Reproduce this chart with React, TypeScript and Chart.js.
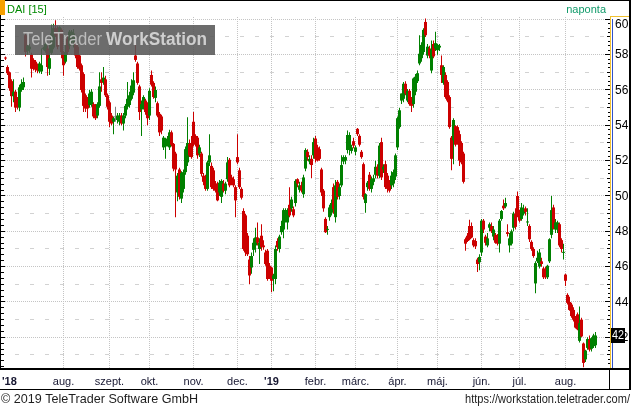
import React, { useEffect, useRef } from 'react';
import { Chart, registerables } from 'chart.js';
Chart.register(...registerables);

// Daily OHLC, DAI (one entry per trading day, left to right)
const opens = [
  57.82, 57.3, 57.0, 56.5, 55.65, 55.9, 55.4, 55.0, 56.0, 56.15,
  59.1, 58.2, 58.3, 58.0, 57.7, 57.6, 57.45, 57.05, 57.05, 58.33,
  58.2, 58.35, 57.2, 58.1, 58.4, 59.5, 59.45, 59.1, 59.4, 58.15,
  57.6, 58.9, 58.5, 58.7, 58.7, 58.7, 58.45, 57.95, 57.4, 56.9,
  55.7, 55.5, 55.15, 55.2, 55.2, 55.1, 54.55, 55.1, 56.6, 56.45,
  56.6, 55.7, 55.3, 54.55, 54.2, 54.45, 54.3, 54.2, 54.55, 54.1,
  54.55, 55.05, 55.15, 55.5, 55.85, 57.95, 57.5, 56.2, 54.9, 55.1,
  55.4, 55.2, 54.55, 56.85, 56.4, 55.55, 55.25, 54.65, 54.5, 52.75,
  52.8, 53.05, 52.75, 53.6, 52.95, 52.4, 50.2, 51.5, 49.85, 50.4,
  51.35, 51.9, 52.95, 53.0, 54.2, 53.4, 53.3, 52.4, 52.4, 51.15,
  51.1, 50.4, 51.9, 51.7, 51.45, 50.7, 50.7, 50.2, 49.95, 50.7,
  50.3, 50.95, 52.05, 51.05, 50.95, 50.5, 52.2, 51.45, 50.4, 49.15,
  48.9, 47.75, 46.4, 45.95, 46.95, 47.2, 47.65, 47.0, 47.75, 47.2,
  46.8, 46.9, 46.05, 45.95, 45.3, 45.3, 47.45, 47.0, 47.95, 48.1,
  48.7, 48.5, 49.5, 49.3, 49.25, 49.6, 50.95, 50.35, 50.6, 50.1,
  51.55, 52.5, 51.95, 52.1, 52.3, 53.25, 52.75, 52.65, 51.5, 50.3,
  48.7, 48.08, 48.8, 49.05, 50.5, 48.8, 50.8, 50.0, 50.6, 51.95,
  52.0, 52.6, 52.7, 52.55, 53.1, 52.5, 53.8, 53.4, 52.5, 51.8,
  49.6, 50.5, 51.2, 50.4, 50.8, 51.2, 51.65, 51.15, 53.05, 51.5,
  51.8, 51.15, 50.75, 50.6, 50.7, 51.1, 52.75, 53.9, 55.4, 55.5,
  56.35, 55.4, 55.95, 55.5, 55.2, 55.9, 56.5, 57.5, 57.8, 58.15,
  59.85, 57.95, 58.35, 57.1, 58.6, 58.35, 58.25, 58.4, 57.4, 56.4,
  56.85, 56.45, 55.6, 53.3, 53.15, 53.95, 53.9, 53.5, 53.0, 52.4,
  47.55, 47.75, 48.3, 48.3, 47.5, 47.45, 46.4, 46.25, 46.8, 48.6,
  47.7, 47.2, 48.2, 48.3, 47.7, 47.8, 47.75, 47.3, 48.7, 49.45,
  49.4, 47.95, 47.2, 47.3, 48.2, 49.0, 50.0, 49.05, 48.7, 49.0,
  49.3, 48.5, 48.3, 47.4, 47.0, 45.05, 46.3, 46.0, 46.3, 45.9,
  45.85, 45.4, 46.3, 47.8, 49.35, 48.1, 48.1, 48.4, 47.5, 46.78,
  45.55, 44.4, 44.0, 43.85, 43.55, 43.1, 43.3, 41.8, 43.0, 41.65,
  40.75, 41.4, 41.85, 41.35, 41.5, 41.55,
];
const highs = [
  57.9, 57.4, 57.05, 56.6, 56.6, 56.0, 55.6, 56.3, 56.6, 56.7,
  59.2, 58.6, 58.6, 58.1, 57.8, 57.7, 57.5, 57.6, 58.35, 58.45,
  58.7, 58.5, 58.6, 59.7, 59.75, 59.95, 59.6, 59.6, 59.5, 58.2,
  59.1, 59.1, 59.4, 59.4, 59.45, 58.9, 58.6, 58.0, 57.5, 57.0,
  55.8, 55.6, 56.0, 56.05, 55.3, 55.2, 55.3, 57.0, 57.0, 57.3,
  56.8, 55.8, 55.4, 54.7, 54.5, 55.05, 54.7, 54.7, 54.7, 54.7,
  55.2, 56.45, 55.9, 56.6, 57.0, 58.7, 57.6, 56.3, 55.4, 55.7,
  55.5, 55.3, 56.1, 57.1, 56.5, 56.2, 55.35, 54.75, 54.6, 53.4,
  53.3, 53.4, 53.75, 53.7, 53.0, 52.5, 51.3, 51.6, 51.4, 51.5,
  52.8, 54.45, 53.2, 53.4, 54.75, 53.5, 53.4, 52.9, 52.5, 51.3,
  51.2, 52.0, 53.5, 51.9, 51.6, 50.85, 50.8, 50.9, 50.95, 50.9,
  50.8, 52.2, 52.15, 51.2, 51.1, 50.6, 53.5, 51.6, 50.5, 49.3,
  49.0, 47.9, 46.6, 46.8, 47.6, 48.2, 48.5, 47.6, 48.4, 47.5,
  46.95, 47.0, 46.2, 46.0, 45.6, 47.2, 47.6, 47.8, 48.6, 49.3,
  49.3, 49.3, 50.5, 49.95, 49.4, 50.95, 51.0, 50.8, 50.8, 51.2,
  52.7, 52.65, 52.3, 52.3, 53.3, 53.4, 52.9, 52.8, 51.6, 50.4,
  48.8, 48.3, 49.5, 49.8, 50.7, 50.9, 50.9, 50.7, 52.3, 52.3,
  52.3, 53.7, 53.6, 52.9, 53.3, 52.85, 53.85, 53.5, 52.6, 51.9,
  50.15, 50.85, 51.35, 51.1, 51.2, 52.0, 51.8, 53.0, 53.3, 51.8,
  52.0, 51.3, 50.9, 51.4, 51.5, 52.4, 54.5, 55.0, 55.8, 56.45,
  56.5, 56.05, 56.05, 55.6, 56.7, 56.9, 57.1, 59.1, 58.7, 59.5,
  60.05, 58.6, 58.5, 58.8, 58.8, 59.3, 58.6, 58.6, 57.95, 57.4,
  57.0, 56.55, 55.7, 53.4, 54.4, 54.0, 54.0, 53.7, 53.1, 52.5,
  47.65, 47.9, 48.65, 48.5, 47.6, 47.6, 46.5, 46.7, 48.7, 48.7,
  47.8, 47.9, 48.5, 48.5, 48.3, 47.9, 47.85, 48.7, 49.2, 49.8,
  49.9, 48.4, 47.9, 48.1, 49.1, 49.3, 50.25, 49.2, 49.6, 49.5,
  49.4, 49.3, 48.4, 47.5, 47.1, 46.3, 46.9, 47.0, 46.5, 46.0,
  46.0, 46.1, 47.6, 50.0, 49.5, 48.7, 48.6, 48.5, 47.6, 47.3,
  45.6, 44.5, 44.3, 43.95, 43.7, 43.2, 43.4, 43.75, 43.1, 41.7,
  41.3, 42.0, 42.1, 42.0, 42.2, 42.3,
];
const lows = [
  57.7, 56.85, 55.95, 55.05, 55.3, 54.75, 54.9, 54.8, 55.9, 56.0,
  57.9, 58.0, 58.1, 56.7, 57.1, 57.0, 56.95, 56.95, 56.9, 58.25,
  58.1, 56.8, 56.85, 58.0, 58.3, 59.0, 58.3, 58.9, 57.8, 56.8,
  57.5, 58.0, 58.3, 58.6, 58.4, 57.8, 57.2, 57.1, 55.85, 54.75,
  54.75, 54.4, 55.0, 55.05, 54.4, 54.3, 54.4, 55.0, 55.9, 56.3,
  55.6, 54.9, 53.9, 54.0, 53.5, 54.2, 54.1, 54.0, 54.0, 53.7,
  54.4, 54.9, 55.0, 55.4, 55.7, 57.6, 56.3, 54.3, 53.4, 54.9,
  54.6, 54.0, 54.3, 56.2, 55.5, 55.3, 54.45, 53.4, 53.5, 52.6,
  52.1, 52.8, 52.6, 52.8, 51.4, 48.8, 49.7, 49.8, 49.6, 50.2,
  51.2, 51.7, 52.2, 52.1, 52.8, 52.8, 52.1, 52.2, 51.1, 50.6,
  50.3, 50.3, 51.7, 50.4, 50.3, 50.2, 49.7, 50.0, 49.6, 50.2,
  50.1, 50.8, 50.5, 50.6, 50.5, 48.8, 51.8, 50.4, 49.8, 46.9,
  46.6, 46.6, 45.0, 45.6, 46.6, 46.8, 47.2, 46.15, 46.9, 46.95,
  46.05, 45.2, 45.3, 44.55, 44.6, 45.0, 46.9, 46.8, 47.8, 47.6,
  48.5, 48.1, 48.8, 49.1, 48.8, 49.4, 50.5, 50.2, 50.2, 49.9,
  51.4, 52.0, 51.8, 51.0, 52.1, 51.9, 51.95, 52.0, 50.0, 49.1,
  47.9, 47.8, 48.6, 48.9, 49.0, 48.5, 49.8, 49.8, 50.5, 51.8,
  51.8, 52.4, 52.3, 52.4, 52.7, 52.3, 53.4, 52.8, 52.1, 49.8,
  49.05, 50.3, 50.3, 50.2, 50.6, 51.0, 51.0, 51.0, 50.9, 51.3,
  50.4, 50.2, 50.2, 50.4, 50.5, 50.9, 52.6, 53.8, 55.2, 55.3,
  55.7, 55.3, 55.1, 54.75, 55.0, 55.7, 56.4, 57.4, 57.6, 58.0,
  59.0, 57.8, 57.8, 56.95, 57.8, 58.2, 58.0, 58.2, 56.4, 56.3,
  55.5, 55.3, 53.8, 51.45, 51.8, 52.8, 52.9, 51.7, 51.8, 50.7,
  46.9, 47.4, 47.5, 47.6, 47.1, 47.0, 45.7, 45.8, 46.6, 47.9,
  47.2, 47.1, 48.0, 47.9, 47.5, 47.3, 47.2, 46.8, 48.6, 49.2,
  49.3, 47.7, 46.8, 47.2, 48.0, 48.1, 48.8, 48.5, 48.6, 48.9,
  48.9, 48.3, 47.4, 46.9, 46.5, 44.5, 46.2, 45.9, 46.0, 45.3,
  45.3, 45.3, 46.2, 47.6, 48.1, 47.9, 47.9, 47.1, 46.8, 46.4,
  44.9, 43.85, 43.5, 43.1, 42.9, 42.5, 42.4, 41.7, 42.0, 40.3,
  40.6, 41.3, 41.2, 41.2, 41.4, 41.4,
];
const closes = [
  57.78, 56.95, 56.1, 55.65, 55.9, 55.0, 55.05, 56.15, 56.35, 56.45,
  58.15, 58.5, 58.45, 57.2, 57.2, 57.15, 57.1, 57.5, 57.4, 58.37,
  58.6, 57.3, 57.8, 59.2, 59.5, 59.1, 58.45, 59.55, 58.15, 57.4,
  58.15, 58.15, 59.3, 59.3, 59.2, 57.95, 57.3, 57.2, 56.0, 55.1,
  54.95, 54.95, 55.8, 55.9, 54.5, 54.4, 55.2, 56.2, 56.4, 56.7,
  55.7, 55.05, 54.2, 54.1, 54.4, 54.45, 54.55, 54.55, 54.1, 54.55,
  55.1, 55.5, 55.7, 56.25, 56.55, 57.7, 56.4, 54.75, 55.2, 55.6,
  54.75, 54.4, 55.95, 56.3, 55.6, 56.0, 54.55, 53.6, 53.7, 53.3,
  53.25, 53.2, 53.6, 52.9, 51.55, 51.5, 51.15, 49.95, 51.3, 51.35,
  52.65, 53.0, 52.3, 52.2, 52.95, 52.9, 52.3, 52.75, 51.25, 50.8,
  50.4, 51.9, 52.3, 50.5, 50.4, 50.3, 49.75, 50.75, 50.85, 50.3,
  50.7, 51.9, 50.6, 50.7, 50.6, 49.75, 51.9, 50.5, 49.9, 47.0,
  46.8, 46.7, 45.5, 46.6, 47.35, 47.65, 47.35, 47.35, 47.1, 47.1,
  46.15, 45.3, 45.4, 45.2, 45.5, 47.0, 47.1, 47.7, 48.3, 49.2,
  49.2, 49.2, 48.9, 49.8, 48.9, 50.85, 50.7, 50.6, 50.3, 51.05,
  52.6, 52.2, 52.1, 51.75, 53.05, 52.1, 52.0, 52.1, 50.2, 49.3,
  47.95, 48.12, 49.35, 49.6, 49.25, 50.6, 49.95, 50.5, 51.75, 52.2,
  52.2, 53.45, 53.45, 52.75, 52.85, 52.75, 53.5, 52.9, 52.2, 49.95,
  50.1, 50.75, 50.4, 50.95, 51.0, 51.65, 51.15, 52.85, 51.05, 51.65,
  50.5, 50.4, 50.3, 51.15, 51.35, 52.3, 54.4, 54.85, 55.8, 56.35,
  55.8, 55.95, 55.2, 55.1, 56.65, 56.75, 56.95, 58.05, 58.55, 59.4,
  59.1, 58.45, 57.95, 58.3, 57.9, 58.65, 58.55, 58.5, 56.85, 57.3,
  55.6, 55.4, 53.9, 52.1, 54.3, 52.9, 53.15, 52.0, 51.9, 50.8,
  47.3, 47.45, 47.55, 47.65, 47.2, 47.15, 46.15, 46.55, 48.6, 48.1,
  47.35, 47.6, 48.4, 48.0, 48.1, 47.35, 47.3, 48.6, 49.15, 49.3,
  49.6, 47.85, 47.6, 48.0, 49.0, 48.25, 48.9, 48.6, 49.35, 49.2,
  49.1, 48.55, 47.55, 47.0, 46.6, 46.2, 46.5, 46.8, 46.15, 45.4,
  45.4, 46.05, 47.55, 49.2, 48.15, 48.5, 48.5, 47.2, 47.0, 46.82,
  45.2, 43.95, 43.55, 43.2, 43.0, 42.55, 42.45, 42.8, 42.05, 40.55,
  41.25, 41.9, 41.3, 41.95, 42.1, 42.1,
];

// first trading day of each month (index into the arrays above) and its label
const monthIndex = [29, 52, 72, 94, 116, 133, 155, 175, 196, 216, 238, 257, 280];
const monthLabels = ['aug.', 'szept.', 'okt.', 'nov.', 'dec.', "'19", 'febr.', 'márc.', 'ápr.', 'máj.', 'jún.', 'júl.', 'aug.'];
const firstYearLabel = "'18";
const yTickValues = [42, 44, 46, 48, 50, 52, 54, 56, 58, 60];
const symbol = 'DAI [15]';
const period = 'naponta';

const UP = '#008000';
const DOWN = '#cc0000';
const FLAT = '#808080';
const FONT = '"Liberation Sans", Arial, sans-serif';

const decor = {
  id: 'decor',
  beforeDraw(chart: any) {
    const { ctx } = chart;
    const xs = chart.scales.x;
    const ys = chart.scales.y;
    ctx.save();
    ctx.fillStyle = '#ffffff';
    ctx.fillRect(0, 0, chart.width, chart.height);
    ctx.lineWidth = 1;
    for (let v = 41; v <= 60; v++) {
      const y = Math.round(ys.getPixelForValue(v) - 0.5) + 0.5;
      ctx.beginPath();
      if (v % 2 === 0) {
        ctx.strokeStyle = '#c4c4c4';
        ctx.setLineDash([1, 1]);
        ctx.moveTo(1, y);
      } else {
        ctx.strokeStyle = '#d2d2d2';
        ctx.setLineDash([4, 11]);
        ctx.moveTo(15, y);
      }
      ctx.lineTo(610, y);
      ctx.stroke();
    }
    ctx.strokeStyle = '#c4c4c4';
    ctx.setLineDash([1, 1]);
    monthIndex.forEach((i) => {
      const x = Math.floor(xs.getPixelForValue(i)) + 0.5;
      ctx.beginPath();
      ctx.moveTo(x, 17);
      ctx.lineTo(x, 368);
      ctx.stroke();
    });
    ctx.restore();
  },
  afterDatasetsDraw(chart: any) {
    const { ctx } = chart;
    const xs = chart.scales.x;
    const ys = chart.scales.y;
    ctx.save();
    // watermark
    ctx.fillStyle = 'rgba(88,88,88,0.88)';
    ctx.fillRect(15, 25, 200, 30);
    ctx.textBaseline = 'alphabetic';
    ctx.textAlign = 'left';
    ctx.font = `18px ${FONT}`;
    ctx.fillStyle = '#bcbcbc';
    ctx.fillText('TeleTrader', 23, 45, 79);
    ctx.font = `bold 18px ${FONT}`;
    ctx.fillStyle = '#cfcfcf';
    ctx.fillText('WorkStation', 106, 45, 101);

    // frame
    ctx.fillStyle = '#000';
    ctx.fillRect(0, 0, 631, 1);
    ctx.fillRect(0, 0, 1, 370);
    ctx.fillRect(629, 0, 2, 390);
    ctx.fillRect(0, 368, 631, 2);
    ctx.fillRect(0, 389, 631, 1);
    ctx.fillRect(609, 370, 1, 19);

    // right axis lines
    ctx.fillStyle = '#f0c030';
    ctx.fillRect(610, 17, 1, 351);
    ctx.fillRect(610, 16, 19, 1);
    ctx.fillStyle = '#3050c8';
    ctx.fillRect(612, 19, 1, 349);

    // tick marks
    ctx.fillStyle = '#000';
    for (let k = -5; k <= 54; k++) {
      const v = 42 + k / 3;
      if (v > 60.01 || v < 40.3) continue;
      const y = Math.round(ys.getPixelForValue(v) - 0.5);
      const len = k % 6 === 0 ? 4 : 3;
      ctx.fillRect(1, y, len, 1);
    }
    for (let k = -6; k <= 72; k++) {
      const v = 42 + k / 4;
      if (v > 60.01 || v < 40.3) continue;
      const y = Math.round(ys.getPixelForValue(v) - 0.5);
      const len = k % 8 === 0 ? 5 : k % 4 === 0 ? 3 : 2;
      ctx.fillRect(610 - len, y, len, 1);
    }

    // y labels
    ctx.font = `12px ${FONT}`;
    ctx.fillStyle = '#000';
    ctx.textBaseline = 'middle';
    ctx.textAlign = 'left';
    yTickValues.forEach((v) => {
      const y = v === 60 ? 25 : ys.getPixelForValue(v) + 0.5;
      ctx.fillText(String(v), 615, y);
    });

    // last price box
    const last = closes[closes.length - 1];
    const cy = ys.getPixelForValue(last);
    ctx.fillStyle = '#000';
    ctx.fillRect(611, Math.round(cy - 8), 14, 15);
    ctx.fillStyle = '#fff';
    ctx.fillText(String(Math.round(last)), 612, Math.round(cy - 8) + 8, 12);

    // x labels
    ctx.textBaseline = 'alphabetic';
    ctx.fillStyle = '#161630';
    ctx.font = `bold 11px ${FONT}`;
    ctx.textAlign = 'left';
    ctx.fillText(firstYearLabel, 2, 385);
    monthIndex.forEach((i, k) => {
      const lab = monthLabels[k];
      ctx.font = lab.startsWith("'") ? `bold 11px ${FONT}` : `11px ${FONT}`;
      ctx.textAlign = 'center';
      ctx.fillText(lab, Math.floor(xs.getPixelForValue(i)) + 0.5, 385);
    });

    // header
    ctx.fillStyle = '#f5a000';
    ctx.fillRect(0, 0, 5, 15);
    ctx.font = `11px ${FONT}`;
    ctx.textAlign = 'left';
    ctx.fillStyle = '#008a00';
    ctx.fillText(symbol, 7, 13);
    ctx.textAlign = 'right';
    ctx.fillStyle = '#109a6a';
    ctx.fillText(period, 606, 13);

    // footer
    ctx.font = `13px ${FONT}`;
    ctx.fillStyle = '#1e1e1e';
    ctx.textAlign = 'left';
    ctx.fillText('© 2019 TeleTrader Software GmbH', 1, 403, 197);
    ctx.textAlign = 'right';
    ctx.fillText('https://workstation.teletrader.com/', 630, 403, 165);
    ctx.restore();
  },
};

export default function App() {
  const ref = useRef<HTMLCanvasElement>(null);
  useEffect(() => {
    document.body.style.margin = '0';
    const canvas = ref.current;
    if (!canvas) return;
    const colors = closes.map((c, k) => (c > opens[k] ? UP : c < opens[k] ? DOWN : FLAT));
    const wickData = lows.map((l, k) => ({ x: k, y: [l, highs[k]] }));
    const bodyData = opens.map((o, k) => ({ x: k, y: [o, closes[k]] }));
    const chart = new Chart(canvas, {
      type: 'bar',
      data: {
        datasets: [
          {
            data: wickData as any,
            backgroundColor: colors,
            grouped: false,
            categoryPercentage: 1,
            barPercentage: 0.5,
            maxBarThickness: 1,
            inflateAmount: 0,
            borderWidth: 0,
          } as any,
          {
            data: bodyData as any,
            backgroundColor: colors,
            grouped: false,
            categoryPercentage: 1,
            barPercentage: 1.5,
            maxBarThickness: 3,
            inflateAmount: 0,
            borderWidth: 0,
            minBarLength: 1,
          } as any,
        ],
      },
      options: {
        responsive: false,
        animation: false,
        devicePixelRatio: 1,
        events: [],
        layout: { padding: { left: 1, top: 1, right: 21, bottom: 40 } },
        plugins: { legend: { display: false }, tooltip: { enabled: false } },
        scales: {
          x: { type: 'linear', min: -2.25, max: 302.25, display: false, offset: false },
          y: { type: 'linear', min: 40.262, max: 61.036, display: false },
        },
      } as any,
      plugins: [decor],
    });
    return () => chart.destroy();
  }, []);
  return <canvas ref={ref} width={631} height={408} style={{ display: 'block' }} />;
}
